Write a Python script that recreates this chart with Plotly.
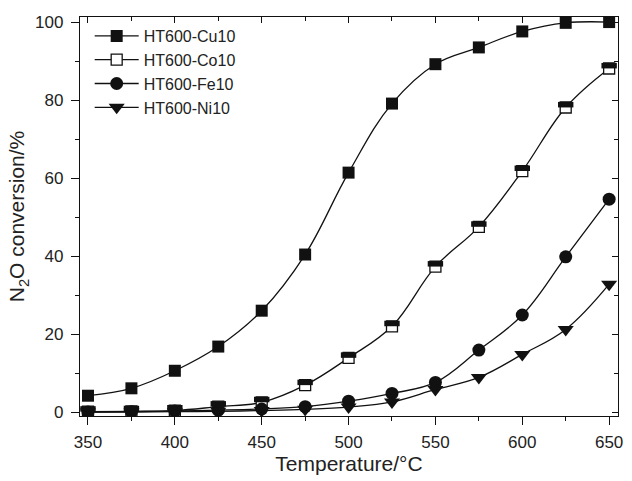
import plotly.graph_objects as go

temperature = [350, 375, 400, 425, 450, 475, 500, 525, 550, 575, 600, 625, 650]
cu10 = [4.2, 6.1, 10.6, 16.8, 26.0, 40.4, 61.4, 79.1, 89.2, 93.5, 97.6, 99.8, 100.0]
co10 = [0.1, 0.2, 0.4, 1.4, 2.5, 6.9, 13.9, 22.0, 37.3, 47.5, 61.8, 78.1, 88.1]
fe10 = [0.0, 0.1, 0.3, 0.5, 0.8, 1.4, 2.8, 4.8, 7.6, 15.9, 24.9, 39.8, 54.6]
ni10 = [0.0, 0.0, 0.1, 0.2, 0.4, 0.7, 1.3, 2.6, 5.8, 8.9, 14.8, 21.2, 32.8]

x_ticks = [350, 400, 450, 500, 550, 600, 650]
y_ticks = [0, 20, 40, 60, 80, 100]

XR = [345.4, 655.1]
YR = [-1.0, 101.3]
# vertical offset (in y units) for the filled top half of the Co10 markers
plot_h_px = 481 - 17 - 65
dy = 2.8 * (YR[1] - YR[0]) / plot_h_px

FONT = "Liberation Sans, Arial, sans-serif"
line = dict(color="#111", width=1.3, shape="spline", smoothing=1.1)

fig = go.Figure()
fig.add_trace(go.Scatter(x=temperature, y=cu10, name="HT600-Cu10", mode="lines+markers",
                         legendgroup="a",
                         line=line, marker=dict(symbol="square", size=12, color="#111")))
fig.add_trace(go.Scatter(x=temperature, y=co10, name="HT600-Co10", mode="lines+markers",
                         legendgroup="b",
                         line=line, marker=dict(symbol="square", size=11, color="white",
                                                line=dict(color="#111", width=1.3))))
# dark top half of the Co10 markers
fig.add_trace(go.Scatter(x=temperature, y=co10, mode="markers", showlegend=False,
                         yaxis="y3", hoverinfo="skip",
                         marker=dict(symbol="line-ew", size=11, color="#111",
                                     line=dict(color="#111", width=5.5))))
fig.add_trace(go.Scatter(x=temperature, y=fe10, name="HT600-Fe10", mode="lines+markers",
                         legendgroup="c",
                         line=line, marker=dict(symbol="circle", size=13, color="#111")))
fig.add_trace(go.Scatter(x=temperature, y=ni10, name="HT600-Ni10", mode="lines+markers",
                         legendgroup="d",
                         line=line, marker=dict(symbol="triangle-down", size=14, color="#111")))

axis_common = dict(showgrid=False, zeroline=False, showline=True, linecolor="#111",
                   linewidth=1.3, tickcolor="#111")
tickfont = dict(family=FONT, size=17, color="#222")
titlefont = dict(family=FONT, size=21, color="#222")

fig.update_layout(
    width=632, height=481,
    margin=dict(l=80, r=9, t=17, b=65),
    paper_bgcolor="white", plot_bgcolor="white",
    font=dict(family=FONT, color="#222"),
    showlegend=True,
    legend=dict(x=0.018, y=0.995, xanchor="left", yanchor="top",
                font=dict(family=FONT, size=16, color="#222"),
                bgcolor="rgba(0,0,0,0)", tracegroupgap=0, itemwidth=44,
                traceorder="grouped"),
    xaxis=dict(range=XR, tickmode="array", tickvals=x_ticks, ticks="outside",
               ticklen=8, tickwidth=1.2, tickfont=tickfont, ticklabelstandoff=2,
               minor=dict(dtick=25, tick0=350, ticks="outside", ticklen=4, tickcolor="#111"),
               title=dict(text="Temperature/°C", font=titlefont, standoff=4),
               **axis_common),
    yaxis=dict(range=YR, tickmode="array", tickvals=y_ticks, ticks="outside",
               ticklen=8, tickwidth=1.2, tickfont=tickfont, ticklabelstandoff=4,
               minor=dict(dtick=10, tick0=0, ticks="outside", ticklen=4, tickcolor="#111"),
               title=dict(text="N<sub>2</sub>O conversion/%", font=titlefont, standoff=4),
               **axis_common),
    xaxis2=dict(range=XR, overlaying="x", side="top", tickmode="array", tickvals=x_ticks,
                ticks="inside", ticklen=6, showticklabels=False,
                minor=dict(dtick=25, tick0=350, ticks="inside", ticklen=4, tickcolor="#111"),
                **axis_common),
    yaxis2=dict(range=YR, overlaying="y", side="right", tickmode="array", tickvals=y_ticks,
                ticks="inside", ticklen=6, showticklabels=False,
                minor=dict(dtick=10, tick0=0, ticks="inside", ticklen=4, tickcolor="#111"),
                **axis_common),
    yaxis3=dict(range=[YR[0] - dy, YR[1] - dy], overlaying="y", visible=False),
)
# invisible trace to activate the mirrored axes
fig.add_trace(go.Scatter(x=[XR[0]], y=[YR[0]], xaxis="x2", yaxis="y2", mode="markers",
                         marker=dict(opacity=0), showlegend=False, hoverinfo="skip"))

fig.write_html("out.html")
